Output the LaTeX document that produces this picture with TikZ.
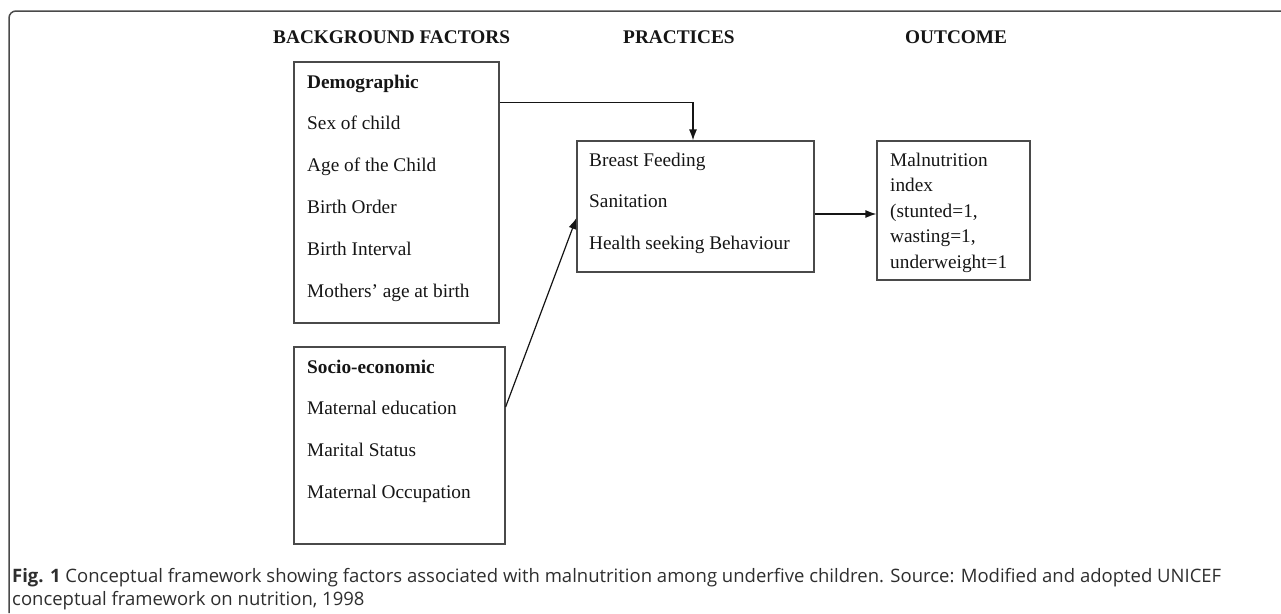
\documentclass[tikz,border=0pt]{standalone}
\usepackage{fontspec}
\setmainfont{Liberation Serif}
\newfontfamily\capfont{Open Sans}
\usetikzlibrary{arrows.meta}

\definecolor{boxgray}{HTML}{4A4A4A}
\definecolor{inkgray}{HTML}{151515}
\definecolor{capgray}{HTML}{2E2E2E}

\begin{document}
\begin{tikzpicture}
  [x=1pt,y=-1pt,
   box/.style={draw=boxgray,line width=1.2pt,inner sep=0pt},
   item/.style={anchor=base west,inner sep=0pt,font=\fontsize{19.3}{23}\selectfont,text=inkgray},
   head/.style={item,font=\fontsize{19.3}{23}\selectfont\bfseries},
   arr/.style={draw=inkgray,line width=1.2pt,-{Latex[length=11pt,width=8pt]}},
   caption/.style={anchor=base west,inner sep=0pt,font=\capfont\fontsize{18.5}{23}\selectfont,text=capgray}]

  \useasboundingbox (0,0) rectangle (1281,613);
  % frame, open to the right and below
  \draw[draw=boxgray,line width=1.5pt,rounded corners=7pt] (9,613) -- (9,11) -- (1281,11);

  % column headings
  \node[head] (hbg) at (273,43) {BACKGROUND FACTORS};
  \node[head] (hpr) at (623,43) {PRACTICES};
  \node[head] (hout) at (905,43) {OUTCOME};

  % boxes
  \node[box,minimum width=205pt,minimum height=261pt] (demo) at (396.5,192.5) {};
  \node[box,minimum width=211pt,minimum height=197pt] (socio) at (399.5,445.5) {};
  \node[box,minimum width=237pt,minimum height=131pt] (prac) at (695.5,206.5) {};
  \node[box,minimum width=153pt,minimum height=139pt] (outc) at (953.5,210.5) {};

  % box texts
  \node[head] (demoh) at (307,88) {Demographic};
  \foreach \t [count=\i] in {Sex of child,Age of the Child,Birth Order,Birth Interval,Mothers' age at birth}
    \node[item] (demo\i) at (307,88+41.8*\i) {\t};

  \node[head] (socioh) at (307,373) {Socio-economic};
  \foreach \t [count=\i] in {Maternal education,Marital Status,Maternal Occupation}
    \node[item] (socio\i) at (307,373+41.7*\i) {\t};

  \foreach \t [count=\i from 0] in {Breast Feeding,Sanitation,Health seeking Behaviour}
    \node[item] (prac\i) at (589,166+41.5*\i) {\t};

  \foreach \t [count=\i from 0] in {Malnutrition,index,{(stunted=1,},{wasting=1,},underweight=1}
    \node[item] (outc\i) at (890,166+25.6*\i) {\t};

  % connectors
  \draw[arr] ([yshift=-41pt]demo.north east) -| ([xshift=-2.5pt]prac.north);
  \draw[arr] ([yshift=38.5pt]socio.east) -- ([yshift=-11.5pt]prac.west);
  \draw[arr] ([yshift=-7.5pt]prac.east) -- ([yshift=-7.5pt]prac.east -| outc.west);

  % caption
  \node[caption] (cap1) at (12,582) {\textbf{Fig. 1} Conceptual framework showing factors associated with malnutrition among underfive children. Source: Modified and adopted UNICEF};
  \node[caption] (cap2) at (12,605) {conceptual framework on nutrition, 1998};
\end{tikzpicture}
\end{document}
